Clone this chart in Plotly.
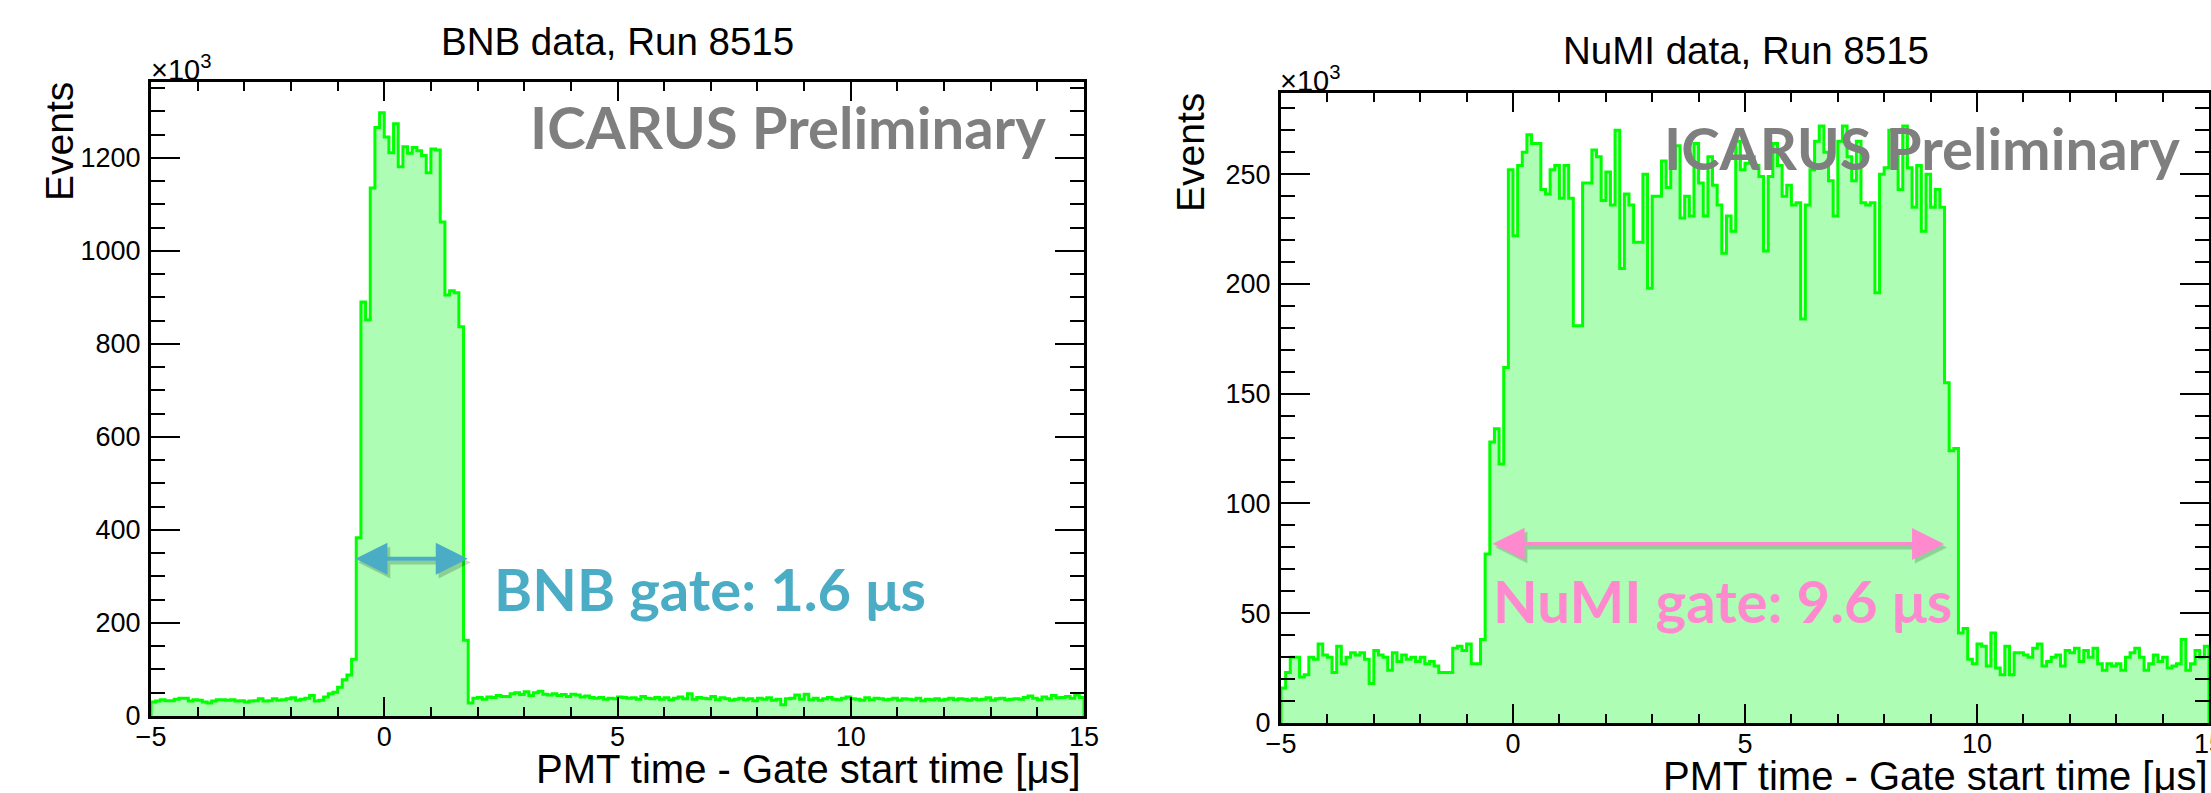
import plotly.graph_objects as go

# ---------------- data ----------------
BIN_LO = -5.0
BIN_W = 0.1

# BNB: counts (x10^3) per 0.1 us bin, from -5.0 to 15.0
bnb_counts = [
    30, 32, 35, 33, 33, 36, 38, 38, 32, 35,
    34, 30, 28, 32, 35, 35, 34, 35, 32, 33,
    30, 32, 33, 37, 32, 33, 37, 34, 35, 37,
    39, 34, 36, 38, 44, 32, 34, 41, 48, 51,
    62, 78, 88, 122, 383, 890, 852, 1135, 1265, 1297,
    1245, 1211, 1273, 1181, 1224, 1210, 1222, 1215, 1205, 1168,
    1219, 1217, 1062, 905, 914, 910, 837, 163,
    28, 38, 40, 36, 41, 40, 44, 42,
    42, 48, 50, 46, 52, 44, 50, 53, 47, 45,
    48, 44, 46, 42, 47, 45, 41, 43, 40, 38,
    40, 36, 38, 37, 41, 40, 38, 39, 36, 42,
    38, 37, 40, 36, 39, 35, 38, 41, 37, 48,
    36, 40, 38, 37, 42, 35, 39, 37, 34, 36,
    38, 35, 37, 33, 38, 36, 39, 34, 36, 24,
    37, 38, 45, 36, 47, 35, 38, 34, 37, 40,
    36, 35, 38, 41, 37, 36, 34, 39, 35, 38,
    37, 35, 36, 38, 34, 37, 36, 35, 38, 33,
    36, 35, 37, 34, 36, 38, 35, 37, 36, 34,
    37, 35, 36, 39, 34, 37, 38, 35, 36, 37,
    36, 40, 43, 38, 35, 41, 37, 44, 39, 40,
    42, 38, 45, 40,
]

# NuMI: counts (x10^3) per 0.1 us bin, from -5.0 to 15.0
numi_pre = [
    16, 23, 30, 30, 21, 22, 30, 29, 36, 31,
    30, 23, 35, 27, 30, 32, 31, 32, 29, 18,
    33, 31, 30, 24, 32, 28, 31, 29, 30, 28,
    30, 27, 28, 26, 23, 23, 23, 34, 35, 33,
    36, 27, 27, 38,
    77, 128, 134, 118, 162,
]
numi_gate = [
    252, 222, 254, 260, 268, 264, 264, 243, 241, 252,
    254, 239, 254, 239, 181, 181, 246, 246, 261, 258,
    238, 251, 236, 270, 207, 241, 236, 219, 219, 250,
    198, 240, 240, 256, 244, 253, 263, 230, 240, 231,
    264, 246, 231, 258, 245, 236, 214, 231, 224, 265,
    252, 255, 258, 254, 249, 215, 249, 264, 254, 240,
    245, 236, 237, 184, 236, 252, 265, 272, 260, 247,
    231, 265, 272, 258, 247, 265, 237, 236, 237, 196,
    250, 253, 270, 259, 243, 272, 253, 235, 254, 224,
    250, 235, 243, 235,
]
numi_post = [
    155, 124, 125, 41, 43,
    29, 27, 36, 35, 26, 41, 25, 22, 35, 22,
    32, 32, 31, 30, 34, 36, 26, 28, 30, 31,
    26, 33, 32, 34, 28, 33, 30, 34, 27, 24,
    27, 26, 27, 24, 30, 32, 34, 30, 24, 27,
    31, 28, 30, 25, 26, 27, 38, 24, 27, 33,
    30, 35,
]
numi_counts = numi_pre + numi_gate + numi_post

X_TICKS = [-5, 0, 5, 10, 15]
BNB_Y_TICKS = [0, 200, 400, 600, 800, 1000, 1200]
NUMI_Y_TICKS = [0, 50, 100, 150, 200, 250]

BNB_TITLE = "BNB data, Run 8515"
NUMI_TITLE = "NuMI data, Run 8515"
X_TITLE = "PMT time - Gate start time [μs]"
Y_TITLE = "Events"
WATERMARK = "ICARUS Preliminary"
BNB_GATE = ("BNB gate: 1.6 μs", -0.65, 1.79, 338)
NUMI_GATE = ("NuMI gate: 9.6 μs", -0.47, 9.29, 81.6)

# ---------------- figure ----------------
W, H = 2211, 793
HELV = "Liberation Sans, Arial, Helvetica, sans-serif"
CAL = "Lato, Carlito, Calibri, sans-serif"
LINE_GREEN = "#00ff00"
FILL_GREEN = "#adfdb5"
BLUE = "#4bacc6"
PINK = "#ff89cf"
GRAY = "#7f7f7f"
TICK_SIZE = 27


def step_xy(counts):
    xs = [BIN_LO]
    ys = [0]
    for i, c in enumerate(counts):
        xs.append(BIN_LO + i * BIN_W)
        ys.append(c)
    xs.append(BIN_LO + len(counts) * BIN_W)
    ys.append(counts[-1])
    xs.append(BIN_LO + len(counts) * BIN_W)
    ys.append(0)
    return xs, ys


def px(x):
    return x / W


def py(y):
    return 1 - y / H


fig = go.Figure()
for counts, xa, ya in [(bnb_counts, "x", "y"), (numi_counts, "x2", "y2")]:
    xs, ys = step_xy(counts)
    fig.add_trace(go.Scatter(
        x=xs, y=ys, xaxis=xa, yaxis=ya, mode="lines",
        line=dict(shape="hv", color=LINE_GREEN, width=3),
        fill="tozeroy", fillcolor=FILL_GREEN, hoverinfo="skip",
    ))


def xaxis_cfg(dom, anchor):
    return dict(
        domain=dom, range=[-5, 15], tickmode="array", tickvals=X_TICKS,
        anchor=anchor, automargin=False, ticklabeloverflow="allow",
        ticks="inside", ticklen=19, tickwidth=2, tickcolor="black",
        showline=True, linewidth=3, linecolor="black", mirror="allticks",
        showgrid=False, zeroline=False, ticklabelstandoff=-5,
        tickfont=dict(family=HELV, size=TICK_SIZE, color="black"),
        minor=dict(tick0=-5, dtick=1, ticks="inside", ticklen=9, tickwidth=2,
                   tickcolor="black", showgrid=False),
    )


def yaxis_cfg(dom, rng, ticks, minor_dt, anchor):
    return dict(
        domain=dom, range=rng, tickmode="array", tickvals=ticks,
        anchor=anchor, automargin=False, ticklabeloverflow="allow",
        ticks="inside", ticklen=29, tickwidth=2, tickcolor="black",
        showline=True, linewidth=3, linecolor="black", mirror="allticks",
        showgrid=False, zeroline=False, ticklabelstandoff=2,
        tickfont=dict(family=HELV, size=TICK_SIZE, color="black"),
        minor=dict(tick0=0, dtick=minor_dt, ticks="inside", ticklen=14, tickwidth=2,
                   tickcolor="black", showgrid=False),
    )


L_LEFT, L_RIGHT, L_TOP, L_BOT = 151, 1084, 82, 716
R_LEFT, R_RIGHT, R_TOP, R_BOT = 1281, 2209, 93, 723

fig.update_layout(
    width=W, height=H, margin=dict(l=0, r=0, t=0, b=0, autoexpand=False),
    font=dict(family=HELV, size=TICK_SIZE, color="black"),
    paper_bgcolor="white", plot_bgcolor="white", showlegend=False,
    xaxis=xaxis_cfg([px(L_LEFT), px(L_RIGHT)], "y"),
    yaxis=yaxis_cfg([py(L_BOT), py(L_TOP)], [0, 1363], BNB_Y_TICKS, 50, "x"),
    xaxis2=xaxis_cfg([px(R_LEFT), px(R_RIGHT)], "y2"),
    yaxis2=yaxis_cfg([py(R_BOT), py(R_TOP)], [0, 287], NUMI_Y_TICKS, 10, "x2"),
)

ann = []


def text(t, x, y, size, family=HELV, color="black", xanchor="center", yanchor="middle",
         angle=0, weight="normal"):
    ann.append(dict(text=t, x=px(x), y=py(y), xref="paper", yref="paper",
                    showarrow=False, xanchor=xanchor, yanchor=yanchor, textangle=angle,
                    font=dict(family=family, size=size, color=color, weight=weight)))


# titles
text(BNB_TITLE, 617, 41, 38.5)
text(NUMI_TITLE, 1746, 50, 38.5)
# x10^3
text("×10<sup>3</sup>", 149, 88, 29, xanchor="left", yanchor="bottom")
text("×10<sup>3</sup>", 1278, 99, 29, xanchor="left", yanchor="bottom")
# Events
text(Y_TITLE, 60, 142, 39, angle=-90)
text(Y_TITLE, 1190, 153, 39, angle=-90)
# x titles
text(X_TITLE, 1083, 769, 40, xanchor="right")
text(X_TITLE, 2210, 776, 40, xanchor="right")
# watermark
text(WATERMARK, 788, 127, 58, family=CAL, color=GRAY, weight="bold")
text(WATERMARK, 1922, 147, 58, family=CAL, color=GRAY, weight="bold")
# gate labels
text(BNB_GATE[0], 710, 588, 58, family=CAL, color=BLUE, weight="bold")
text(NUMI_GATE[0], 1722, 600, 58, family=CAL, color=PINK, weight="bold")


def arrow(g, xr, yr, color, dx=0.0, dy=0.0):
    _, x0, x1, yv = g
    ann.append(dict(text="", x=x1 + dx, y=yv + dy, ax=x0 + dx, ay=yv + dy,
                    xref=xr, yref=yr, axref=xr, ayref=yr, showarrow=True,
                    arrowhead=2, startarrowhead=2, arrowside="end+start",
                    arrowwidth=4, arrowsize=1.6, startarrowsize=1.6,
                    arrowcolor=color, standoff=0, startstandoff=0))


arrow(BNB_GATE, "x", "y", "rgba(0,0,0,0.18)", 0.06, -8)
arrow(BNB_GATE, "x", "y", BLUE)
arrow(NUMI_GATE, "x2", "y2", "rgba(0,0,0,0.18)", 0.06, -1.6)
arrow(NUMI_GATE, "x2", "y2", PINK)

fig.update_layout(annotations=ann)
fig.write_html(
    "out.html",
    config={"displayModeBar": False},
    post_script="document.body.style.margin='0';document.body.style.overflow='hidden';",
)
